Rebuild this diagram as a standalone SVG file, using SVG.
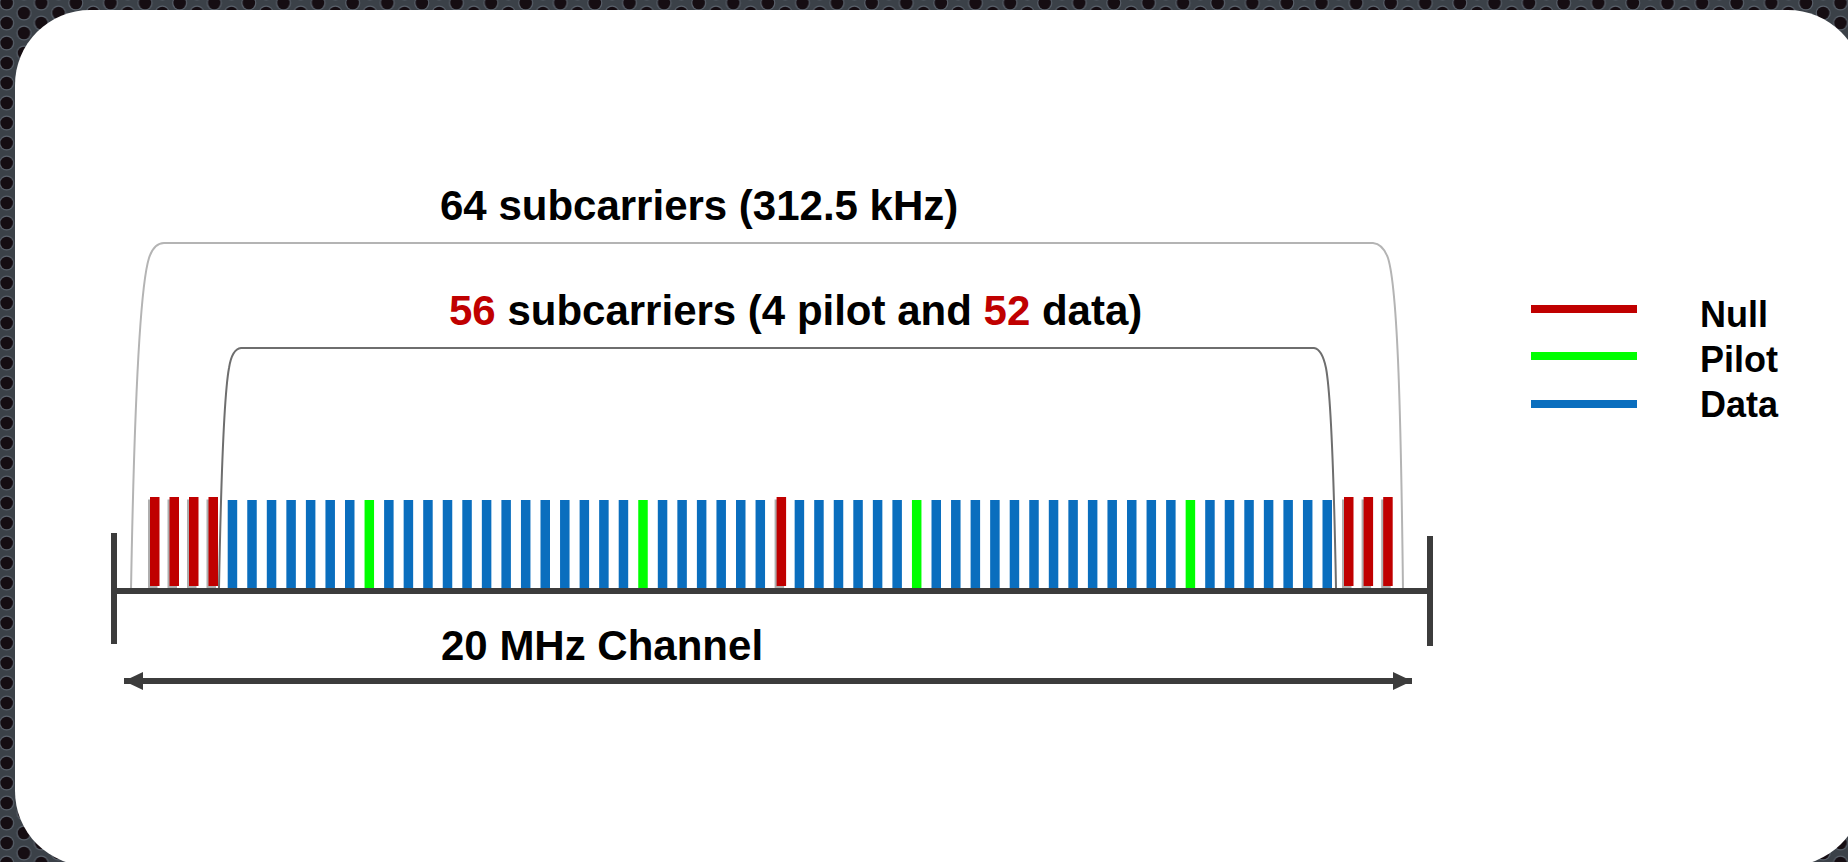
<svg xmlns="http://www.w3.org/2000/svg" width="1848" height="862" viewBox="0 0 1848 862">
  <defs>
    <pattern id="holes" patternUnits="userSpaceOnUse" width="34.6" height="20" x="-2" y="-7">
      <rect width="34.6" height="20" fill="#3b4148"/>
      <circle cx="8.65" cy="10" r="7.5" fill="#59616b"/>
      <circle cx="8.65" cy="10" r="6.3" fill="#150d12"/>
      <circle cx="25.95" cy="0" r="7.5" fill="#59616b"/>
      <circle cx="25.95" cy="0" r="6.3" fill="#150d12"/>
      <circle cx="25.95" cy="20" r="7.5" fill="#59616b"/>
      <circle cx="25.95" cy="20" r="6.3" fill="#150d12"/>
    </pattern>
    <marker id="arrow" markerWidth="19" markerHeight="18" refX="19" refY="9" orient="auto-start-reverse" markerUnits="userSpaceOnUse">
      <path d="M0,0 L19,9 L0,18 Z" fill="#3c3c3c"/>
    </marker>
  </defs>
  <style>
    .t { font-family: "Liberation Sans", Arial, Helvetica, sans-serif; font-weight: bold; fill: #000; }
    .big { font-size: 42px; }
    .leg { font-size: 36px; }
    .red { fill: #c00000; }
    .d { fill: #0a6ebe; }
    .p { fill: #00ff00; }
    .n { fill: #c00000; }
    .sh { fill: #9a9a9a; opacity: 0.8; }
    .outer { fill: none; stroke: #b4b4b4; stroke-width: 2; }
    .inner { fill: none; stroke: #6e6e6e; stroke-width: 2; }
    .axis { stroke: #3c3c3c; stroke-width: 6; fill: none; }
  </style>

  <g id="background">
    <rect x="0" y="0" width="1848" height="862" fill="url(#holes)"/>
    <rect x="15" y="10" width="1848" height="856" rx="75" ry="75" fill="#ffffff"/>
  </g>

  <g id="label-64">
    <text class="t big" x="440" y="220">64 subcarriers (312.5 kHz)</text>
  </g>
  <g id="label-56">
    <text class="t big" x="449" y="325"><tspan class="red">56</tspan> subcarriers (4 pilot and <tspan class="red">52</tspan> data)</text>
  </g>

  <g id="subcarriers">
    <g id="null-left">
      <rect class="sh" x="148" y="499.5" width="9.5" height="89"/>
      <rect class="n" x="150" y="497" width="9.5" height="89"/>
      <rect class="sh" x="167.5" y="499.5" width="9.5" height="89"/>
      <rect class="n" x="169.5" y="497" width="9.5" height="89"/>
      <rect class="sh" x="187" y="499.5" width="9.5" height="89"/>
      <rect class="n" x="189" y="497" width="9.5" height="89"/>
      <rect class="sh" x="206.5" y="499.5" width="9.5" height="89"/>
      <rect class="n" x="208.5" y="497" width="9.5" height="89"/>
    </g>
    <g id="data-pilot-left">
      <rect class="d" x="227.7" y="500" width="9.5" height="88"/>
      <rect class="d" x="247.25" y="500" width="9.5" height="88"/>
      <rect class="d" x="266.8" y="500" width="9.5" height="88"/>
      <rect class="d" x="286.35" y="500" width="9.5" height="88"/>
      <rect class="d" x="305.9" y="500" width="9.5" height="88"/>
      <rect class="d" x="325.45" y="500" width="9.5" height="88"/>
      <rect class="d" x="345" y="500" width="9.5" height="88"/>
      <rect class="p" x="364.55" y="500" width="9.5" height="88"/>
      <rect class="d" x="384.1" y="500" width="9.5" height="88"/>
      <rect class="d" x="403.65" y="500" width="9.5" height="88"/>
      <rect class="d" x="423.2" y="500" width="9.5" height="88"/>
      <rect class="d" x="442.75" y="500" width="9.5" height="88"/>
      <rect class="d" x="462.3" y="500" width="9.5" height="88"/>
      <rect class="d" x="481.85" y="500" width="9.5" height="88"/>
      <rect class="d" x="501.4" y="500" width="9.5" height="88"/>
      <rect class="d" x="520.95" y="500" width="9.5" height="88"/>
      <rect class="d" x="540.5" y="500" width="9.5" height="88"/>
      <rect class="d" x="560.05" y="500" width="9.5" height="88"/>
      <rect class="d" x="579.6" y="500" width="9.5" height="88"/>
      <rect class="d" x="599.15" y="500" width="9.5" height="88"/>
      <rect class="d" x="618.7" y="500" width="9.5" height="88"/>
      <rect class="p" x="638.25" y="500" width="9.5" height="88"/>
      <rect class="d" x="657.8" y="500" width="9.5" height="88"/>
      <rect class="d" x="677.35" y="500" width="9.5" height="88"/>
      <rect class="d" x="696.9" y="500" width="9.5" height="88"/>
      <rect class="d" x="716.45" y="500" width="9.5" height="88"/>
      <rect class="d" x="736" y="500" width="9.5" height="88"/>
      <rect class="d" x="755.55" y="500" width="9.5" height="88"/>
    </g>
    <g id="null-dc">
      <rect class="sh" x="774.6" y="499.5" width="9.5" height="89"/>
      <rect class="n" x="776.6" y="497" width="9.5" height="89"/>
    </g>
    <g id="data-pilot-right">
      <rect class="d" x="794.65" y="500" width="9.5" height="88"/>
      <rect class="d" x="814.2" y="500" width="9.5" height="88"/>
      <rect class="d" x="833.75" y="500" width="9.5" height="88"/>
      <rect class="d" x="853.3" y="500" width="9.5" height="88"/>
      <rect class="d" x="872.85" y="500" width="9.5" height="88"/>
      <rect class="d" x="892.4" y="500" width="9.5" height="88"/>
      <rect class="p" x="911.95" y="500" width="9.5" height="88"/>
      <rect class="d" x="931.5" y="500" width="9.5" height="88"/>
      <rect class="d" x="951.05" y="500" width="9.5" height="88"/>
      <rect class="d" x="970.6" y="500" width="9.5" height="88"/>
      <rect class="d" x="990.15" y="500" width="9.5" height="88"/>
      <rect class="d" x="1009.7" y="500" width="9.5" height="88"/>
      <rect class="d" x="1029.25" y="500" width="9.5" height="88"/>
      <rect class="d" x="1048.8" y="500" width="9.5" height="88"/>
      <rect class="d" x="1068.35" y="500" width="9.5" height="88"/>
      <rect class="d" x="1087.9" y="500" width="9.5" height="88"/>
      <rect class="d" x="1107.45" y="500" width="9.5" height="88"/>
      <rect class="d" x="1127" y="500" width="9.5" height="88"/>
      <rect class="d" x="1146.55" y="500" width="9.5" height="88"/>
      <rect class="d" x="1166.1" y="500" width="9.5" height="88"/>
      <rect class="p" x="1185.65" y="500" width="9.5" height="88"/>
      <rect class="d" x="1205.2" y="500" width="9.5" height="88"/>
      <rect class="d" x="1224.75" y="500" width="9.5" height="88"/>
      <rect class="d" x="1244.3" y="500" width="9.5" height="88"/>
      <rect class="d" x="1263.85" y="500" width="9.5" height="88"/>
      <rect class="d" x="1283.4" y="500" width="9.5" height="88"/>
      <rect class="d" x="1302.95" y="500" width="9.5" height="88"/>
      <rect class="d" x="1322.5" y="500" width="9.5" height="88"/>
    </g>
    <g id="null-right">
      <rect class="sh" x="1342" y="499.5" width="9.5" height="89"/>
      <rect class="n" x="1344" y="497" width="9.5" height="89"/>
      <rect class="sh" x="1361.6" y="499.5" width="9.5" height="89"/>
      <rect class="n" x="1363.6" y="497" width="9.5" height="89"/>
      <rect class="sh" x="1381.2" y="499.5" width="9.5" height="89"/>
      <rect class="n" x="1383.2" y="497" width="9.5" height="89"/>
    </g>
  </g>

  <g id="connectors">
    <path class="outer" d="M131,590 C134,420 139,290 149,258 Q154,243 164,243 L1373,243 Q1383,244 1388,258 C1398,290 1401,420 1403,590"/>
    <path class="inner" d="M219,588 C221,480 224,395 229,368 Q232,349 241,348 L1314,348 Q1322,349 1326,368 C1331,395 1334,480 1336,588"/>
    <line class="axis" x1="124" y1="681" x2="1412" y2="681" marker-start="url(#arrow)" marker-end="url(#arrow)"/>
  </g>

  <g id="axis">
    <line class="axis" x1="111" y1="591" x2="1433" y2="591"/>
    <line class="axis" x1="114" y1="533" x2="114" y2="644"/>
    <line class="axis" x1="1430" y1="536" x2="1430" y2="646"/>
  </g>

  <g id="label-channel">
    <text class="t big" x="441" y="660">20 MHz Channel</text>
  </g>

  <g id="legend">
    <g id="legend-null">
      <rect class="n" x="1531" y="305" width="106" height="8"/>
      <text class="t leg" x="1700" y="327">Null</text>
    </g>
    <g id="legend-pilot">
      <rect class="p" x="1531" y="352" width="106" height="8"/>
      <text class="t leg" x="1700" y="372">Pilot</text>
    </g>
    <g id="legend-data">
      <rect class="d" x="1531" y="400" width="106" height="8"/>
      <text class="t leg" x="1700" y="417">Data</text>
    </g>
  </g>
</svg>
